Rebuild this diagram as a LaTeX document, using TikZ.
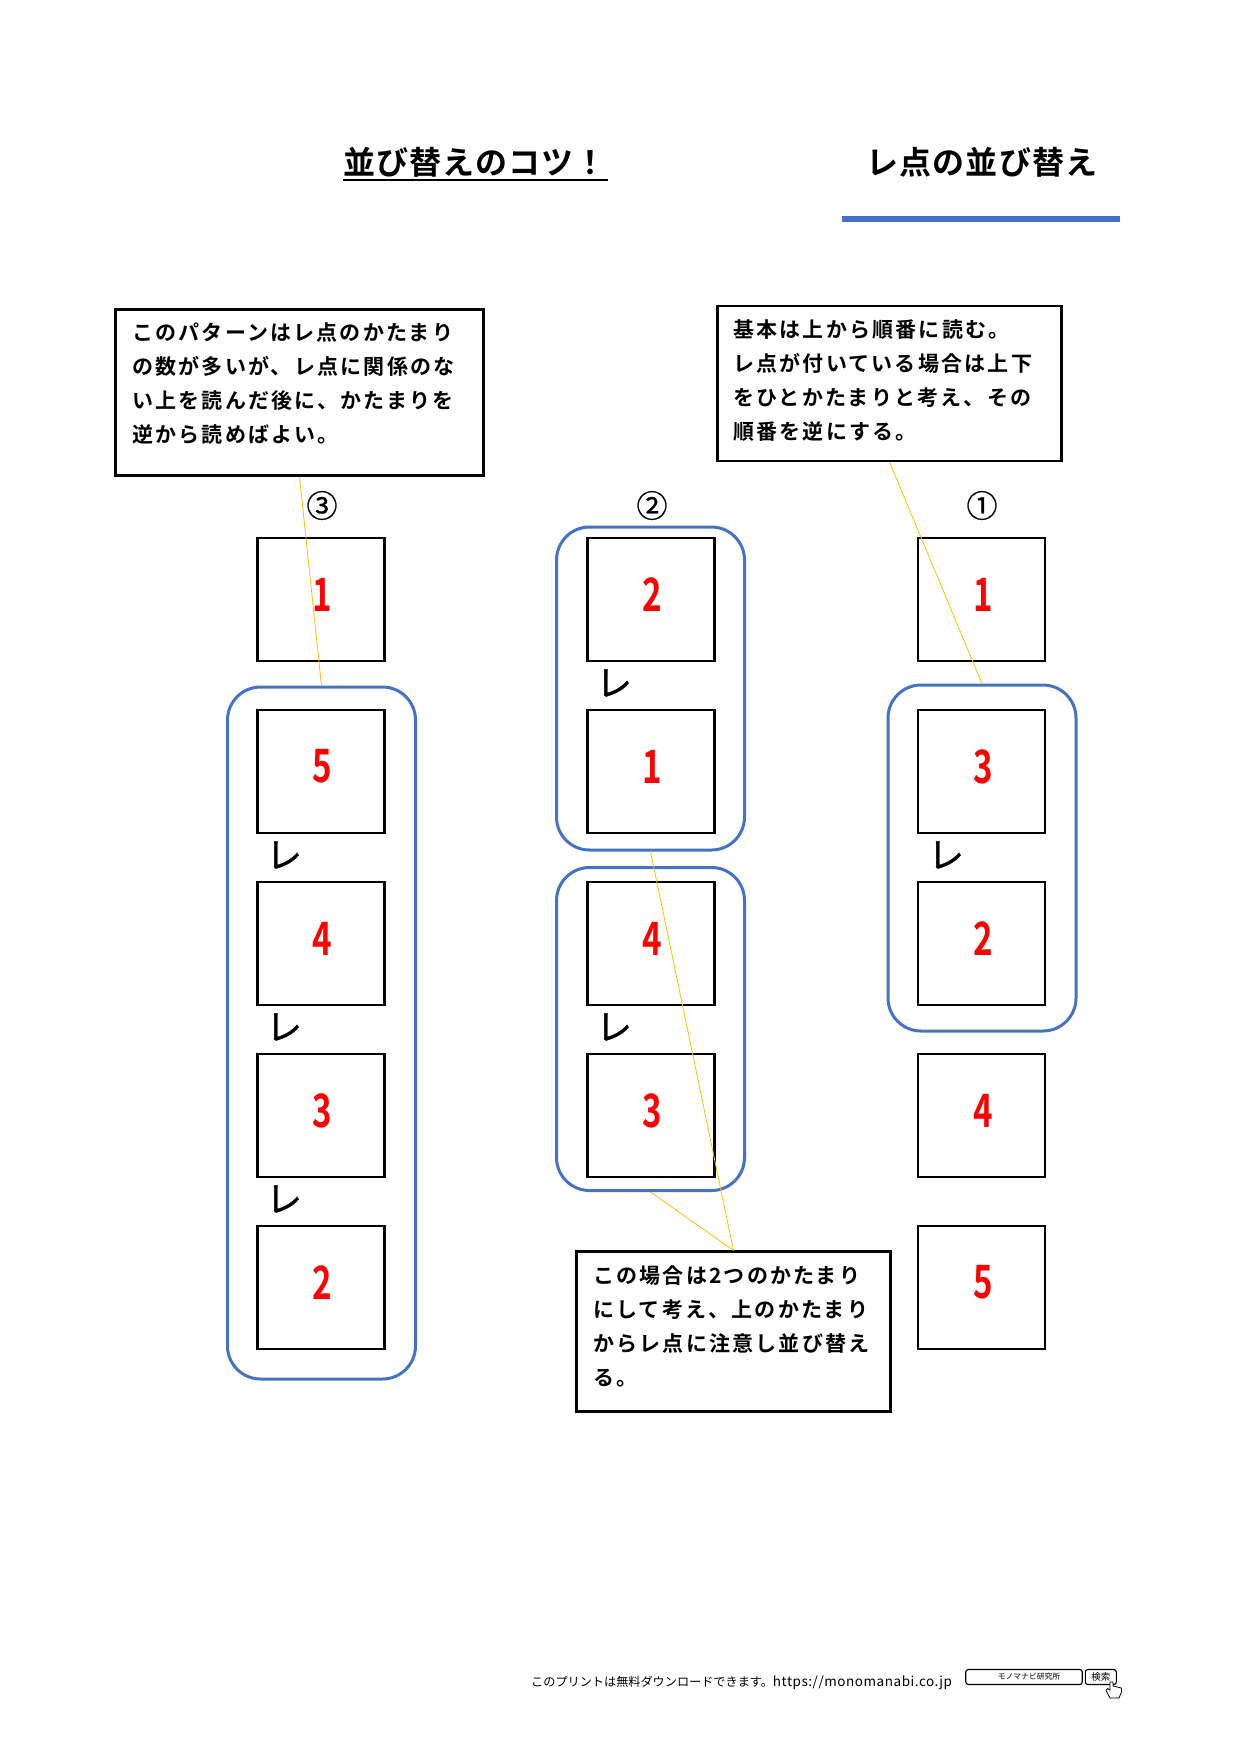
\documentclass[tikz,border=0pt]{standalone}
\usepackage{fontspec}
\setmainfont{Noto Sans CJK JP}
\newfontfamily\jpb[LetterSpace=10.5]{Noto Sans CJK JP Bold}
\newfontfamily\jpt[LetterSpace=3.5]{Noto Sans CJK JP Bold}
\newfontfamily\jpr{Noto Sans CJK JP}
\newfontfamily\jpe[FakeBold=0.8]{Noto Sans CJK JP}
\newfontfamily\jpl[LetterSpace=4]{Noto Sans CJK JP}
\newfontfamily\jpn{Noto Sans CJK JP Bold}
\definecolor{bluel}{HTML}{4472C4}
\definecolor{yel}{HTML}{FFC000}
\tikzset{
 sq/.style={draw=black,line width=2.1pt,minimum width=127pt,minimum height=123pt,inner sep=0pt,fill=white},
 num/.style={text=red,font=\jpn\fontsize{46pt}{46pt}\selectfont,xscale=0.72,inner sep=0pt},
 grp/.style={draw=bluel,line width=3pt,rounded corners=33pt,inner sep=0pt},
 rem/.style={draw=black,line width=2.1pt,fill=white,inner sep=0pt},
 txt/.style={font=\jpb\fontsize{21pt}{34.2pt}\selectfont,align=left,anchor=north west,inner sep=0pt,text=black},
 ttl/.style={font=\jpt\fontsize{32pt}{32pt}\selectfont,inner sep=0pt},
 circ/.style={font=\jpe\fontsize{31pt}{31pt}\selectfont,inner sep=0pt},
 ten/.style={font=\jpe\fontsize{36pt}{36pt}\selectfont,inner sep=0pt},
 leader/.style={draw=yel,line width=0.8pt},
 sbox/.style={draw=black,line width=1.1pt,rounded corners=2.5pt,inner sep=0pt}
}
\begin{document}
\begin{tikzpicture}[x=1pt,y=-1pt]
\useasboundingbox[fill=white] (0,0) rectangle (1241,1754);
% titles
\node[ttl] (t1) at (475,162) {並び替えのコツ！};
\coordinate (ul1) at (343,180); \coordinate (ul2) at (608,180);
\draw[line width=2pt] (ul1) -- (ul2);
\node[ttl] (t2) at (982,162) {レ点の並び替え};
\fill[bluel] (841.5,216) rectangle (1120,222);
% groups
\node[grp,minimum width=188pt,minimum height=692pt] (g3) at (321.5,1033) {};
\node[grp,minimum width=188pt,minimum height=323pt] (g2a) at (650.5,688.5) {};
\node[grp,minimum width=188pt,minimum height=323pt] (g2b) at (650.5,1029) {};
\node[grp,minimum width=188pt,minimum height=346pt] (g1) at (982,858) {};
% squares
\node[sq] (a1) at (321,599.5) {};
\node[sq] (a2) at (321,771.5) {};
\node[sq] (a3) at (321,943.5) {};
\node[sq] (a4) at (321,1115.5) {};
\node[sq] (a5) at (321,1287.5) {};
\node[sq] (b1) at (651,599.5) {};
\node[sq] (b2) at (651,771.5) {};
\node[sq] (b3) at (651,943.5) {};
\node[sq] (b4) at (651,1115.5) {};
\node[sq] (c1) at (981.5,599.5) {};
\node[sq] (c2) at (981.5,771.5) {};
\node[sq] (c3) at (981.5,943.5) {};
\node[sq] (c4) at (981.5,1115.5) {};
\node[sq] (c5) at (981.5,1287.5) {};
% numbers
\foreach \n/\v in {a1/1,a2/5,a3/4,a4/3,a5/2,b1/2,b2/1,b3/4,b4/3,c1/1,c2/3,c3/2,c4/4,c5/5}{
  \node[num] (v\n) at ([xshift=1.7pt,yshift=5pt]\n.center) {\v};
}
% circled
\node[circ] (n3) at (322,505.5) {③};
\node[circ] (n2) at (652,505.5) {②};
\node[circ] (n1) at (982,505.5) {①};
% re marks
\node[ten] (r1) at (284,855) {レ};
\node[ten] (r2) at (284,1027) {レ};
\node[ten] (r3) at (284,1199) {レ};
\node[ten] (r4) at (614,683) {レ};
\node[ten] (r5) at (614,1027) {レ};
\node[ten] (r6) at (946,855) {レ};
% remark boxes
\node[rem,minimum width=368pt,minimum height=166pt] (m3) at (299.5,392.5) {};
\node[rem,minimum width=344pt,minimum height=155pt] (m1) at (889.5,383.5) {};
\node[rem,minimum width=314pt,minimum height=160pt] (m2) at (733.5,1331.5) {};
\node[txt] (x3) at (132,322) {このパターンはレ点のかたまり\\の数が多いが、レ点に関係のな\\い上を読んだ後に、かたまりを\\逆から読めばよい。};
\node[txt] (x1) at (733,319) {基本は上から順番に読む。\\レ点が付いている場合は上下\\をひとかたまりと考え、その\\順番を逆にする。};
\node[txt] (x2) at (593,1265) {この場合は2つのかたまり\\にして考え、上のかたまり\\からレ点に注意し並び替え\\る。};
% leaders
\draw[leader] (m3.south) -- (g3.north);
\draw[leader] (m1.south) -- (g1.north);
\draw[leader] (m2.north) -- (g2a.south);
\draw[leader] (m2.north) -- (g2b.south);
% footer
\node[font=\jpr\fontsize{12.15pt}{14pt}\selectfont,anchor=west,inner sep=0pt] (f) at (531,1682.5) {このプリントは無料ダウンロードできます。{\jpl\fontsize{13.5pt}{14pt}\selectfont https://monomanabi.co.jp}};
\node[sbox,minimum width=116.5pt,minimum height=15pt] (s1) at (1024,1677) {};
\node[font=\jpr\fontsize{7.8pt}{9pt}\selectfont,inner sep=0pt] (s1t) at (1029,1677) {モノマナビ研究所};
\node[sbox,minimum width=31pt,minimum height=15pt,font=\jpr\fontsize{9.5pt}{10pt}\selectfont] (s2) at (1100.8,1677) {検索};
\draw[line width=0.8pt,fill=white,line join=round] (1110,1682) -- (1110,1690) -- (1107.5,1688.5) -- (1106,1690.5) -- (1110,1698) -- (1119,1698) -- (1121.5,1692) -- (1121.5,1688) -- (1113,1686) -- (1113,1682) -- cycle;
\end{tikzpicture}
\end{document}
